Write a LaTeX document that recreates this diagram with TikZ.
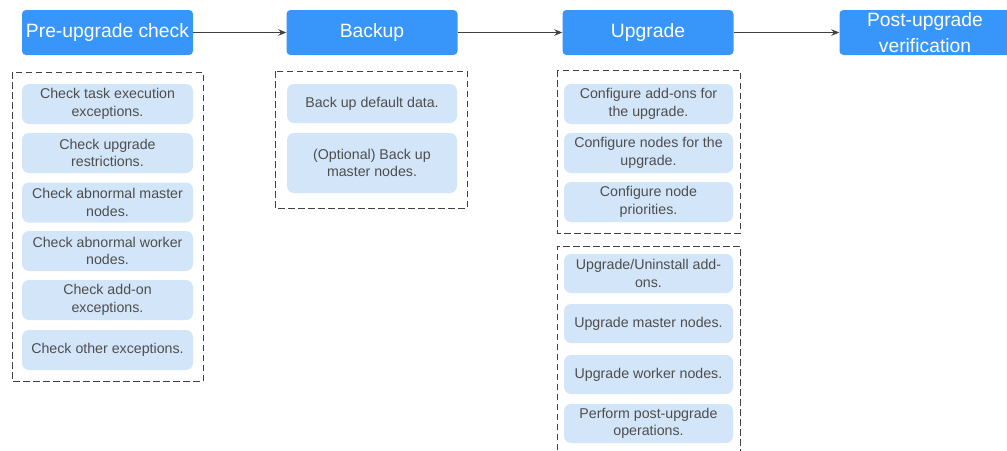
\documentclass[tikz,border=0pt]{standalone}
\usepackage{fontspec}
\setmainfont{Liberation Sans}
\usetikzlibrary{arrows.meta}

\definecolor{phaseblue}{RGB}{56,150,250}
\definecolor{taskblue}{RGB}{211,229,248}
\definecolor{taskgray}{RGB}{78,78,78}
\definecolor{linegray}{RGB}{64,64,64}

\tikzset{
  phase/.style={fill=phaseblue, text=white, rounded corners=4pt,
    minimum width=171pt, minimum height=45pt, inner sep=0pt, align=center,
    font=\fontsize{19.3}{25.5}\selectfont},
  task/.style={fill=taskblue, text=taskgray, rounded corners=7pt,
    minimum width=171pt, minimum height=40pt, inner sep=0pt, align=center,
    font=\fontsize{14.2}{17.5}\selectfont},
  group/.style={draw=linegray, dash pattern=on 6.5pt off 3.5pt, line width=1pt},
  flow/.style={draw=linegray, line width=1.1pt, -{Stealth[length=8pt,width=6.5pt]}}
}

\begin{document}
\begin{tikzpicture}[x=1pt,y=-1pt]
    \useasboundingbox (0,0) rectangle (1007,450);

    % Fases del proceso
    \node[phase] (check) at (107.5,32.5) {Pre-upgrade check};
    \node[phase] (backup) at (372,32.5) {Backup};
    \node[phase] (upgrade) at (648,32.5) {Upgrade};
    \node[phase] (verify) at (925,32.5) {Post-upgrade\\verification};

    % Flechas entre fases
    \draw[flow] (check) -- (backup);
    \draw[flow] (backup) -- (upgrade);
    \draw[flow] (upgrade) -- (verify);

    % Grupos punteados
    \draw[group] (12,72) rectangle (203,381);
    \draw[group] (275,71) rectangle (467,208);
    \draw[group] (557,70) rectangle (740,233);
    \draw[group] (557,460) -- (557,246) -- (740,246) -- (740,460);

    % Tareas de comprobacion
    \node[task] (c1) at (107.5,104) {Check task execution\\exceptions.};
    \node[task] (c2) at (107.5,153) {Check upgrade\\restrictions.};
    \node[task] (c3) at (107.5,202.5) {Check abnormal master\\nodes.};
    \node[task] (c4) at (107.5,251) {Check abnormal worker\\nodes.};
    \node[task] (c5) at (107.5,300) {Check add-on\\exceptions.};
    \node[task] (c6) at (107.5,350) {Check other exceptions.};

    % Tareas de copia
    \node[task, minimum width=170pt, minimum height=39pt] (b1) at (372,103.5) {Back up default data.};
    \node[task, minimum width=170pt, minimum height=60pt] (b2) at (372,163) {(Optional) Back up\\master nodes.};

    % Tareas de configuracion
    \node[task, minimum width=169pt] (u1) at (648.5,104) {Configure add-ons for\\the upgrade.};
    \node[task, minimum width=169pt] (u2) at (648.5,153) {Configure nodes for the\\upgrade.};
    \node[task, minimum width=169pt] (u3) at (648.5,202) {Configure node\\priorities.};

    % Tareas de actualizacion
    \node[task, minimum width=169pt, minimum height=39pt] (u4) at (648.5,273.5) {Upgrade/Uninstall add-\\ons.};
    \node[task, minimum width=169pt, minimum height=39pt] (u5) at (648.5,323.5) {Upgrade master nodes.};
    \node[task, minimum width=169pt, minimum height=39pt] (u6) at (648.5,374.5) {Upgrade worker nodes.};
    \node[task, minimum width=169pt, minimum height=39pt] (u7) at (648.5,423.5) {Perform post-upgrade\\operations.};

  \end{tikzpicture}
\end{document}
